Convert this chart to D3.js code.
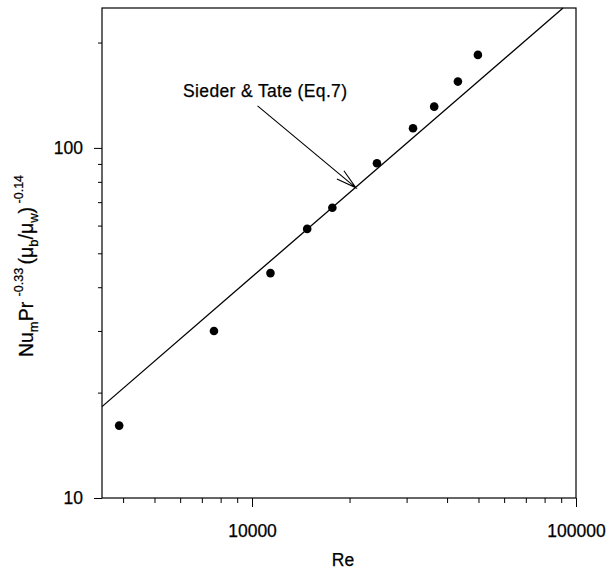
<!DOCTYPE html>
<html>
<head>
<meta charset="utf-8">
<script src="https://cdn.jsdelivr.net/npm/d3@7"></script>
<style>
  body { margin: 0; background: #fff; }
  svg { display: block; font-family: "Liberation Sans", Arial, sans-serif; }
  text { stroke: #000; stroke-width: 0.25px; }
</style>
</head>
<body>
<svg id="chart"></svg>
<script>
// measured points (Re, Nu_m Pr^-0.33 (mu_b/mu_w)^-0.14)
const reData = [3890, 7630, 11400, 14800, 17700, 24300, 31400, 36500, 43200, 49800];
const nuData = [16.1, 30.0, 43.9, 58.7, 67.5, 90.4, 113.8, 131.2, 154.7, 184.4];

// Sieder & Tate line, end points
const lineRe = [3443, 91200];
const lineNu = [18.24, 251];

const xTickValues = [10000, 100000];
const yTickValues = [10, 100];
const xMinorTicks = [4000, 5000, 6000, 7000, 8000, 9000, 20000, 30000, 40000, 50000, 60000, 70000, 80000, 90000];
const yMinorTicks = [20, 30, 40, 50, 60, 70, 80, 90, 200];

const annLabel = "Sieder & Tate (Eq.7)";
const annText = [6124, 139.9];   // label anchor (Re, Nu)
const annFrom = [10400, 131.8];
const annTo = [20940, 76.9];

const width = 611, height = 569;
const margin = {top: 8, right: 35, bottom: 71, left: 102};

const svg = d3.select("#chart")
  .attr("width", width)
  .attr("height", height)
  .attr("viewBox", [0, 0, width, height]);

const x = d3.scaleLog()
  .domain([3443, 100000])
  .range([margin.left, width - margin.right]);

const y = d3.scaleLog()
  .domain([10, 251])
  .range([height - margin.bottom, margin.top]);

// minor ticks
svg.append("g")
  .attr("transform", `translate(0,${height - margin.bottom})`)
  .call(d3.axisBottom(x).tickValues(xMinorTicks).tickSize(5).tickFormat(""))
  .call(g => g.select(".domain").remove());

svg.append("g")
  .attr("transform", `translate(${margin.left},0)`)
  .call(d3.axisLeft(y).tickValues(yMinorTicks).tickSize(4).tickFormat(""))
  .call(g => g.select(".domain").remove());

// major ticks
svg.append("g")
  .attr("transform", `translate(0,${height - margin.bottom})`)
  .call(d3.axisBottom(x).tickValues(xTickValues).tickSize(9).tickPadding(18).tickFormat(d3.format("d")))
  .call(g => g.select(".domain").remove())
  .call(g => g.selectAll("text").attr("font-size", 17.5).attr("fill", "#000").attr("font-family", null));

svg.append("g")
  .attr("transform", `translate(${margin.left},0)`)
  .call(d3.axisLeft(y).tickValues(yTickValues).tickSize(8).tickPadding(11).tickFormat(d3.format("d")))
  .call(g => g.select(".domain").remove())
  .call(g => g.selectAll("text").attr("font-size", 17.5).attr("fill", "#000").attr("font-family", null));

// frame
svg.append("rect")
  .attr("x", margin.left)
  .attr("y", margin.top)
  .attr("width", width - margin.left - margin.right)
  .attr("height", height - margin.top - margin.bottom)
  .attr("fill", "none")
  .attr("stroke", "#000")
  .attr("stroke-width", 1.2);

// correlation line
const line = d3.line()
  .x(d => x(d[0]))
  .y(d => y(d[1]));

svg.append("path")
  .datum(lineRe.map((r, i) => [r, lineNu[i]]))
  .attr("d", line)
  .attr("fill", "none")
  .attr("stroke", "#000")
  .attr("stroke-width", 1.3);

// data points
svg.append("g")
  .selectAll("circle")
  .data(reData.map((r, i) => [r, nuData[i]]))
  .join("circle")
    .attr("cx", d => x(d[0]))
    .attr("cy", d => y(d[1]))
    .attr("r", 4.3)
    .attr("fill", "#000");

// annotation
svg.append("text")
  .attr("x", x(annText[0]))
  .attr("y", y(annText[1]))
  .attr("font-size", 17.5)
  .attr("textLength", 164)
  .text(annLabel);

const x0 = x(annFrom[0]), y0 = y(annFrom[1]);
const x1 = x(annTo[0]), y1 = y(annTo[1]);
const ang = Math.atan2(y1 - y0, x1 - x0);
const headLen = 21, headAng = Math.PI / 12;

svg.append("path")
  .attr("d", `M${x0},${y0}L${x1},${y1}` +
    `M${x1 - headLen * Math.cos(ang - headAng)},${y1 - headLen * Math.sin(ang - headAng)}L${x1},${y1}` +
    `L${x1 - headLen * Math.cos(ang + headAng)},${y1 - headLen * Math.sin(ang + headAng)}`)
  .attr("fill", "none")
  .attr("stroke", "#000")
  .attr("stroke-width", 1.1);

// axis titles
svg.append("text")
  .attr("x", (margin.left + width - margin.right) / 2 + 4)
  .attr("y", height - 3)
  .attr("text-anchor", "middle")
  .attr("font-size", 17.5)
  .text("Re");

const yt = svg.append("text")
  .attr("transform", `translate(33,266) rotate(-90)`)
  .attr("text-anchor", "middle")
  .attr("font-size", 19.5);

yt.append("tspan").text("Nu");
yt.append("tspan").attr("font-size", 13).attr("dy", 5).text("m");
yt.append("tspan").attr("dy", -5).text("Pr ");
yt.append("tspan").attr("font-size", 12.5).attr("dy", -10).text("-0.33 ");
yt.append("tspan").attr("dy", 10).text("(\u03bc");
yt.append("tspan").attr("font-size", 13).attr("dy", 5).text("b");
yt.append("tspan").attr("dy", -5).text("/\u03bc");
yt.append("tspan").attr("font-size", 13).attr("dy", 5).text("w");
yt.append("tspan").attr("dy", -5).text(")");
yt.append("tspan").attr("font-size", 12.5).attr("dy", -10).text(" -0.14");
</script>
</body>
</html>
